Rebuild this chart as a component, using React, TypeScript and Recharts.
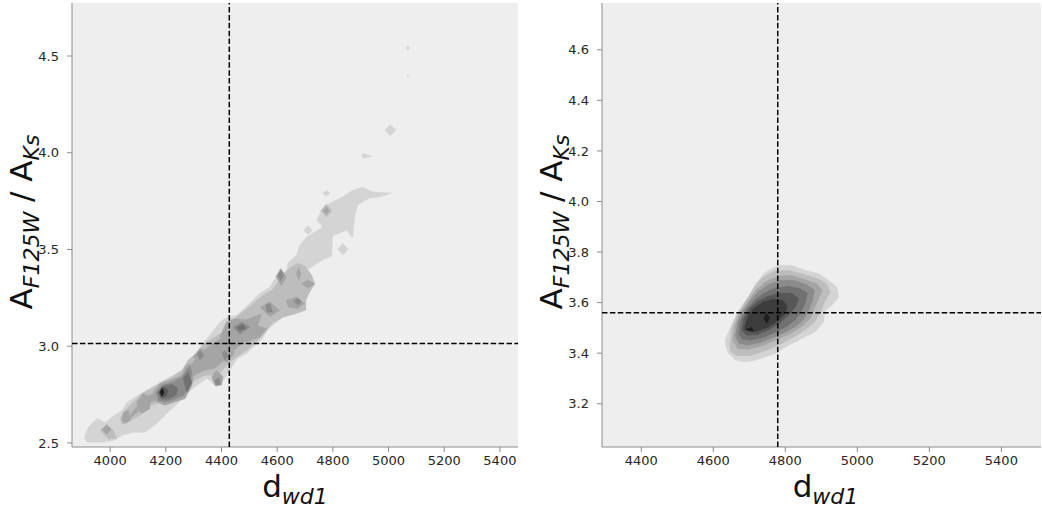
import React from 'react';
import { ScatterChart, Scatter, XAxis, YAxis, CartesianGrid } from 'recharts';

type Pt = [number, number];

// grey levels of the filled contours, lightest first
const LEVEL_COLORS = ['#d4d4d4', '#bdbdbd', '#a5a5a5', '#8b8b8b', '#717171', '#575757', '#3c3c3c', '#1e1e1e'];

// ---- left panel ----
const leftXTicks = [4000, 4200, 4400, 4600, 4800, 5000, 5200, 5400];
const leftYTicks = [2.5, 3.0, 3.5, 4.0, 4.5];
const leftXDomain: [number, number] = [3863, 5465];
const leftYDomain: [number, number] = [2.479, 4.774];
const leftMarkX = 4428;
const leftMarkY = 3.014;

const leftL1: Pt[][] = [
  [[3907, 2.524], [3921, 2.581], [3953, 2.627], [3982, 2.607], [4011, 2.638], [4043, 2.669], [4061, 2.71], [4100, 2.746],
   [4143, 2.783], [4179, 2.814], [4226, 2.85], [4269, 2.886], [4294, 2.938], [4323, 2.995], [4358, 3.057], [4394, 3.124],
   [4419, 3.15], [4455, 3.16], [4502, 3.223], [4538, 3.274], [4573, 3.305], [4588, 3.342], [4634, 3.383], [4638, 3.43],
   [4670, 3.471], [4681, 3.523], [4706, 3.564], [4763, 3.616], [4742, 3.652], [4763, 3.714], [4796, 3.745], [4835, 3.771],
   [4871, 3.807], [4907, 3.823], [4943, 3.797], [5011, 3.792], [4968, 3.771], [4932, 3.766], [4889, 3.73], [4878, 3.663],
   [4871, 3.559], [4849, 3.6], [4799, 3.569], [4796, 3.466], [4763, 3.445], [4706, 3.393], [4735, 3.326], [4710, 3.28],
   [4699, 3.202], [4670, 3.171], [4620, 3.15], [4563, 3.083], [4548, 3.041], [4513, 2.995], [4491, 2.964], [4459, 2.938],
   [4441, 2.902], [4412, 2.834], [4384, 2.788], [4348, 2.834], [4312, 2.798], [4276, 2.757], [4244, 2.705], [4204, 2.653],
   [4168, 2.601], [4125, 2.555], [4082, 2.555], [4043, 2.539], [4011, 2.513], [3975, 2.503], [3939, 2.503], [3918, 2.503]],
  [[4986, 4.118], [5006, 4.144], [5028, 4.118], [5006, 4.087]],
  [[4902, 3.989], [4910, 3.997], [4942, 3.98], [4910, 3.972]],
  [[5061, 4.541], [5069, 4.55], [5077, 4.541], [5069, 4.532]],
  [[5066, 4.399], [5069, 4.404], [5073, 4.399], [5069, 4.394]],
  [[4695, 3.6], [4711, 3.624], [4726, 3.6], [4711, 3.577]],
  [[4817, 3.501], [4836, 3.531], [4855, 3.501], [4836, 3.471]],
  [[4763, 3.79], [4777, 3.805], [4790, 3.79], [4777, 3.776]],
];

const leftL2: Pt[][] = [
  [[4036, 2.627], [4054, 2.669], [4083, 2.71], [4115, 2.757], [4151, 2.783], [4186, 2.814], [4222, 2.84], [4258, 2.876],
   [4280, 2.928], [4312, 2.969], [4341, 3.016], [4376, 3.047], [4412, 3.083], [4448, 3.145], [4484, 3.186], [4520, 3.228],
   [4545, 3.259], [4581, 3.29], [4602, 3.331], [4617, 3.368], [4645, 3.404], [4674, 3.43], [4699, 3.414], [4724, 3.368],
   [4735, 3.321], [4717, 3.28], [4703, 3.238], [4703, 3.186], [4663, 3.166], [4620, 3.15], [4581, 3.119], [4556, 3.067],
   [4520, 3.016], [4491, 2.979], [4459, 2.948], [4430, 2.917], [4387, 2.85], [4341, 2.85], [4305, 2.824], [4280, 2.798],
   [4251, 2.762], [4215, 2.736], [4179, 2.71], [4143, 2.69], [4108, 2.643], [4072, 2.612], [4043, 2.596]],
  [[3964, 2.565], [3988, 2.591], [4012, 2.565], [4024, 2.522], [3994, 2.522]],
  [[4756, 3.7], [4777, 3.735], [4796, 3.7], [4777, 3.668]],
];

const leftL3: Pt[][] = [
  [[4065, 2.627], [4090, 2.679], [4126, 2.731], [4161, 2.762], [4197, 2.793], [4233, 2.814], [4265, 2.85], [4287, 2.897],
   [4315, 2.948], [4348, 2.99], [4387, 3.031], [4423, 3.067], [4459, 3.109], [4502, 3.145], [4545, 3.166], [4531, 3.114],
   [4502, 3.052], [4466, 3.005], [4437, 2.969], [4409, 2.928], [4376, 2.886], [4341, 2.876], [4308, 2.855], [4272, 2.814],
   [4237, 2.772], [4201, 2.741], [4165, 2.721], [4129, 2.7], [4097, 2.658], [4072, 2.627]],
  [[4096, 2.712], [4119, 2.755], [4143, 2.738], [4143, 2.677], [4114, 2.652], [4102, 2.669]],
  [[4048, 2.66], [4066, 2.669], [4072, 2.617], [4054, 2.6], [4042, 2.617]],
  [[4155, 2.763], [4179, 2.807], [4215, 2.824], [4257, 2.85], [4272, 2.896], [4287, 2.912], [4301, 2.865], [4294, 2.798],
   [4269, 2.729], [4233, 2.712], [4197, 2.695], [4167, 2.712]],
  [[4299, 2.945], [4323, 2.988], [4352, 2.979], [4347, 2.919], [4317, 2.91]],
  [[4365, 2.841], [4382, 2.876], [4406, 2.841], [4400, 2.798], [4376, 2.798]],
  [[4394, 3.048], [4418, 3.126], [4448, 3.143], [4490, 3.135], [4526, 3.109], [4562, 3.092], [4538, 3.048], [4490, 3.022], [4442, 3.014]],
  [[4538, 3.203], [4574, 3.229], [4609, 3.186], [4574, 3.152]],
  [[4633, 3.238], [4669, 3.255], [4699, 3.221], [4675, 3.195], [4639, 3.203]],
  [[4595, 3.359], [4613, 3.402], [4633, 3.359], [4615, 3.311]],
  [[4687, 3.325], [4711, 3.342], [4735, 3.321], [4711, 3.299]],
  [[4669, 3.373], [4677, 3.407], [4687, 3.373], [4677, 3.338]],
  [[4376, 2.979], [4412, 3.005], [4448, 2.969], [4423, 2.917], [4387, 2.927]],
  [[3971, 2.57], [3988, 2.596], [4004, 2.57], [3988, 2.545]],
  [[4765, 3.7], [4777, 3.72], [4787, 3.7], [4777, 3.681]],
];

const leftL4: Pt[][] = [
  [[4165, 2.762], [4186, 2.798], [4222, 2.814], [4258, 2.84], [4276, 2.881], [4287, 2.897], [4294, 2.86], [4287, 2.803],
   [4265, 2.746], [4233, 2.726], [4197, 2.71], [4172, 2.721]],
  [[4312, 2.959], [4323, 2.979], [4337, 2.953], [4323, 2.928]],
  [[4441, 3.098], [4473, 3.124], [4502, 3.098], [4466, 3.062]],
  [[4559, 3.212], [4574, 3.223], [4584, 3.176], [4563, 3.176]],
  [[4376, 2.824], [4391, 2.84], [4398, 2.803], [4380, 2.798]],
  [[4402, 2.964], [4412, 2.979], [4427, 2.948], [4412, 2.927]],
  [[4660, 3.233], [4674, 3.248], [4688, 3.228], [4674, 3.212]],
  [[4602, 3.368], [4613, 3.393], [4624, 3.368], [4613, 3.336]],
];

const leftL5: Pt[][] = [
  [[4172, 2.762], [4190, 2.793], [4222, 2.803], [4244, 2.783], [4237, 2.746], [4208, 2.726], [4183, 2.726]],
  [[4262, 2.834], [4280, 2.865], [4294, 2.814], [4276, 2.762]],
  [[4455, 3.098], [4477, 3.114], [4488, 3.093], [4466, 3.078]],
];

const leftL6: Pt[][] = [
  [[4176, 2.762], [4190, 2.788], [4208, 2.772], [4201, 2.741], [4183, 2.736]],
];

const leftL8: Pt[][] = [
  [[4179, 2.762], [4186, 2.785], [4194, 2.762], [4186, 2.74]],
];

const leftLevels: Pt[][][] = [leftL1, leftL2, leftL3, leftL4, leftL5, leftL6, [], leftL8];

// ---- right panel ----
const rightXTicks = [4400, 4600, 4800, 5000, 5200, 5400];
const rightYTicks = [3.2, 3.4, 3.6, 3.8, 4.0, 4.2, 4.4, 4.6];
const rightXDomain: [number, number] = [4291, 5510];
const rightYDomain: [number, number] = [3.029, 4.785];
const rightMarkX = 4779;
const rightMarkY = 3.56;

const rightL1: Pt[][] = [[
  [4634, 3.457], [4652, 3.517], [4671, 3.57], [4698, 3.622], [4717, 3.675], [4745, 3.721], [4781, 3.748], [4818, 3.748],
  [4855, 3.728], [4892, 3.715], [4920, 3.688], [4943, 3.662], [4948, 3.622], [4929, 3.589], [4911, 3.57], [4906, 3.523],
  [4883, 3.484], [4855, 3.464], [4828, 3.444], [4800, 3.424], [4772, 3.398], [4745, 3.385], [4717, 3.372], [4689, 3.365],
  [4662, 3.372], [4643, 3.398], [4634, 3.431],
]];
const rightL2: Pt[][] = [[
  [4646, 3.431], [4651, 3.498], [4665, 3.55], [4687, 3.601], [4709, 3.649], [4734, 3.696], [4768, 3.724], [4809, 3.728],
  [4851, 3.712], [4887, 3.696], [4914, 3.676], [4925, 3.641], [4909, 3.601], [4898, 3.562], [4881, 3.522], [4853, 3.49],
  [4823, 3.463], [4787, 3.435], [4748, 3.411], [4704, 3.391], [4665, 3.391], [4648, 3.407],
]];
const rightL3: Pt[][] = [[
  [4654, 3.451], [4660, 3.51], [4673, 3.558], [4696, 3.605], [4718, 3.649], [4746, 3.684], [4779, 3.704], [4815, 3.708],
  [4853, 3.692], [4887, 3.676], [4903, 3.649], [4892, 3.613], [4881, 3.578], [4870, 3.538], [4845, 3.506], [4815, 3.478],
  [4779, 3.455], [4740, 3.431], [4698, 3.415], [4668, 3.419],
]];
const rightL4: Pt[][] = [[
  [4662, 3.467], [4668, 3.522], [4682, 3.566], [4704, 3.609], [4726, 3.645], [4754, 3.672], [4787, 3.688], [4823, 3.688],
  [4859, 3.672], [4881, 3.649], [4876, 3.609], [4865, 3.57], [4851, 3.534], [4829, 3.506], [4798, 3.482], [4762, 3.459],
  [4726, 3.439], [4693, 3.431], [4671, 3.439],
]];
const rightL5: Pt[][] = [[
  [4671, 3.478], [4676, 3.53], [4693, 3.574], [4715, 3.609], [4740, 3.637], [4770, 3.657], [4806, 3.665], [4840, 3.657],
  [4862, 3.637], [4856, 3.601], [4845, 3.566], [4829, 3.534], [4804, 3.506], [4770, 3.482], [4734, 3.459], [4701, 3.451], [4679, 3.455],
]];
const rightL6: Pt[][] = [[
  [4679, 3.49], [4685, 3.538], [4701, 3.577], [4723, 3.605], [4751, 3.625], [4784, 3.637], [4817, 3.637], [4837, 3.617],
  [4829, 3.585], [4812, 3.554], [4787, 3.522], [4757, 3.494], [4723, 3.474], [4693, 3.471],
]];
const rightL7: Pt[][] = [[
  [4687, 3.502], [4696, 3.546], [4712, 3.577], [4737, 3.601], [4765, 3.613], [4793, 3.609], [4806, 3.586], [4798, 3.554],
  [4779, 3.526], [4751, 3.502], [4720, 3.486], [4698, 3.486],
]];
const rightL8: Pt[][] = [
  [[4740, 3.538], [4748, 3.558], [4757, 3.538], [4748, 3.518]],
  [[4687, 3.494], [4707, 3.502], [4712, 3.486]],
];

const rightLevels: Pt[][][] = [rightL1, rightL2, rightL3, rightL4, rightL5, rightL6, rightL7, rightL8];

const FONT = 'DejaVu Sans';
const AXIS_GREY = '#8c8c8c';

const NoDot = () => <g />;

const XTitle = (props: any) => {
  const { viewBox, shift = 0 } = props;
  const cx = viewBox.x + viewBox.width / 2 + shift;
  return (
    <text x={cx} y={viewBox.y + 50} textAnchor="middle" fontSize={31} fill="#111" fontFamily={FONT}>
      d<tspan dy={7} fontSize={22} fontStyle="italic">wd1</tspan>
    </text>
  );
};

const YTitle = (props: any) => {
  const { viewBox } = props;
  const x = viewBox.x + 32;
  const cy = 222;
  return (
    <text transform={`translate(${x},${cy}) rotate(-90)`} textAnchor="middle" fontSize={31} fill="#111"
      fontFamily={FONT} style={{ whiteSpace: 'pre' }}>
      A<tspan dy={7} fontSize={22} fontStyle="italic">F125W</tspan>
      <tspan dy={-7}> / A</tspan>
      <tspan dy={7} fontSize={22} fontStyle="italic">Ks</tspan>
    </text>
  );
};

type PanelProps = {
  left: number;
  width: number;
  marginRight: number;
  xDomain: [number, number];
  yDomain: [number, number];
  xTicks: number[];
  yTicks: number[];
  levels: Pt[][][];
  markX: number;
  markY: number;
  titleShift: number;
};

const Panel = ({ left, width, marginRight, xDomain, yDomain, xTicks, yTicks, levels, markX, markY, titleShift }: PanelProps) => {
  const series: React.ReactNode[] = [];
  levels.forEach((polys, li) => {
    polys.forEach((poly, pi) => {
      const color = LEVEL_COLORS[li];
      series.push(
        <Scatter
          key={`c-${li}-${pi}`}
          data={poly.map(([x, y]) => ({ x, y }))}
          shape={NoDot}
          line={(p: any) => (
            <polygon
              points={(p.points || []).map((q: any) => `${q.x},${q.y}`).join(' ')}
              fill={color}
              stroke={color}
              strokeWidth={0.4}
            />
          )}
          lineType="joint"
          isAnimationActive={false}
        />
      );
    });
  });

  // dashed marker lines, drawn after the contours so they sit on top
  const dashed = { stroke: '#000', strokeWidth: 1.5, strokeDasharray: '5.5 2.4', fill: 'none' };
  const vLine = [{ x: markX, y: yDomain[0] }, { x: markX, y: yDomain[1] }];
  const hLine = [{ x: xDomain[0], y: markY }, { x: xDomain[1], y: markY }];

  const tickStyle = { fontSize: 13, fill: '#262626', fontFamily: FONT };

  return (
    <div style={{ position: 'absolute', left, top: 0 }}>
      <ScatterChart width={width} height={508} margin={{ top: 3, right: marginRight, bottom: 0, left: 0 }}>
        <CartesianGrid fill="#eeeeee" horizontal={false} vertical={false} />
        <XAxis
          type="number"
          dataKey="x"
          domain={xDomain}
          ticks={xTicks}
          allowDataOverflow
          height={61}
          tickSize={5}
          tickMargin={4}
          tick={tickStyle}
          stroke={AXIS_GREY}
          label={<XTitle shift={titleShift} />}
        />
        <XAxis xAxisId="top" orientation="top" type="number" domain={xDomain} allowDataOverflow height={0}
          tick={false} tickLine={false} stroke={AXIS_GREY} />
        <YAxis
          type="number"
          dataKey="y"
          domain={yDomain}
          ticks={yTicks}
          allowDataOverflow
          width={72}
          tickSize={5}
          tickMargin={8}
          tick={tickStyle}
          tickFormatter={(v: number) => v.toFixed(1)}
          stroke={AXIS_GREY}
          label={<YTitle />}
        />
        <YAxis yAxisId="right" orientation="right" type="number" domain={yDomain} allowDataOverflow width={0}
          tick={false} tickLine={false} stroke={AXIS_GREY} />
        {series}
        <Scatter data={vLine} shape={NoDot} line={dashed} lineType="joint" isAnimationActive={false} />
        <Scatter data={hLine} shape={NoDot} line={dashed} lineType="joint" isAnimationActive={false} />
      </ScatterChart>
    </div>
  );
};

export default function App() {
  return (
    <div style={{ position: 'absolute', left: 0, top: 0, width: 1042, height: 508, background: '#fff', overflow: 'hidden' }}>
      <Panel left={0} width={530} marginRight={12} xDomain={leftXDomain} yDomain={leftYDomain}
        xTicks={leftXTicks} yTicks={leftYTicks} levels={leftLevels} markX={leftMarkX} markY={leftMarkY} titleShift={0} />
      <Panel left={530} width={512} marginRight={1} xDomain={rightXDomain} yDomain={rightYDomain}
        xTicks={rightXTicks} yTicks={rightYTicks} levels={rightLevels} markX={rightMarkX} markY={rightMarkY} titleShift={4} />
    </div>
  );
}
